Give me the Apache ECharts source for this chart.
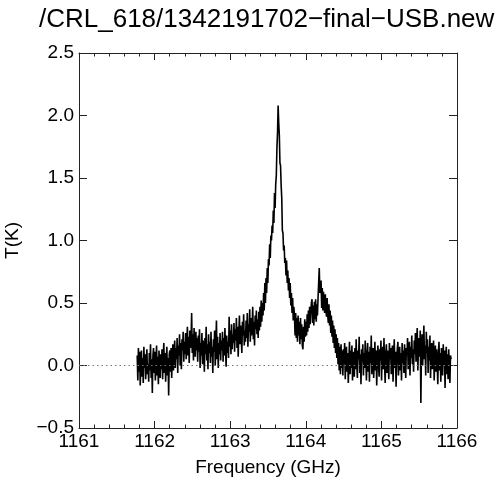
<!DOCTYPE html>
<html><head><meta charset="utf-8">
<script src="https://cdn.jsdelivr.net/npm/echarts@6/dist/echarts.min.js"></script>
<style>html,body{margin:0;padding:0;background:#fff}#c{width:500px;height:483px}</style>
</head><body><div id="c"></div>
<script>
const chartTitle = "/CRL_618/1342191702\u2212final\u2212USB.new";
const xName = "Frequency (GHz)";
const yName = "T(K)";
const xRange = [1161, 1166];
const yRange = [-0.5, 2.5];
const freqStart = 1161.77;
const freqStep = 0.008;
const tempK = [
0.08,-0.12,0.14,-0.05,0.11,-0.16,0.03,0.12,-0.09,0.06,-0.14,0.15,-0.02,0.09,-0.11,0.04,0.13,-0.07,0.01,-0.13,
0.10,-0.04,0.17,-0.10,0.05,-0.22,0.08,0.14,-0.06,0.11,-0.12,0.02,0.16,-0.08,0.07,-0.15,0.12,0.00,-0.10,0.09,
-0.03,0.13,-0.11,0.07,0.18,-0.06,0.10,-0.13,0.04,0.15,-0.08,0.06,-0.24,0.09,0.12,-0.05,0.14,-0.10,0.08,0.17,
-0.04,0.11,0.20,-0.02,0.14,0.05,0.22,-0.06,0.16,0.08,0.25,0.00,0.18,-0.03,0.21,0.12,0.27,0.03,0.19,0.09,
0.26,0.05,0.20,0.31,0.08,0.23,0.02,0.28,0.14,0.19,0.42,0.10,0.25,0.04,0.30,0.16,0.07,0.27,0.12,0.22,
0.03,0.24,0.11,0.29,-0.02,0.18,0.08,0.26,0.01,0.20,0.13,-0.05,0.22,0.09,0.31,0.04,0.17,-0.03,0.25,0.10,
0.19,0.02,0.27,0.07,0.15,-0.06,0.21,0.11,0.28,0.00,0.16,0.36,0.05,0.23,-0.02,0.18,0.09,0.26,0.04,0.20,
0.12,0.27,0.03,0.22,0.08,0.30,0.14,-0.01,0.24,0.10,0.19,0.06,0.39,0.15,0.28,0.09,0.33,0.13,0.25,0.18,
0.34,0.11,0.29,0.20,0.38,0.14,0.31,0.07,0.26,0.40,0.17,0.32,0.22,0.10,0.35,0.24,0.41,0.16,0.28,0.19,
0.36,0.22,0.42,0.15,0.33,0.27,0.45,0.19,0.38,0.24,0.30,0.47,0.21,0.35,0.16,0.40,0.29,0.44,0.25,0.37,
0.22,0.43,0.28,0.47,0.31,0.52,0.35,0.50,0.40,0.58,0.44,0.66,0.50,0.70,0.58,0.78,0.66,0.85,0.80,0.97,
0.86,1.04,1.00,1.12,1.06,1.24,1.14,1.38,1.26,1.45,1.52,1.74,1.86,2.08,1.94,1.84,1.62,1.60,1.44,1.34,
1.08,1.06,0.92,0.96,0.82,0.86,0.72,0.84,0.66,0.76,0.60,0.70,0.54,0.66,0.48,0.58,0.42,0.54,0.36,0.47,
0.40,0.24,0.42,0.22,0.38,0.19,0.40,0.24,0.35,0.17,0.38,0.21,0.33,0.16,0.13,0.31,0.19,0.37,0.23,0.35,
0.24,0.41,0.27,0.44,0.30,0.47,0.33,0.43,0.50,0.53,0.34,0.48,0.32,0.51,0.37,0.53,0.35,0.49,0.40,0.54,
0.55,0.78,0.58,0.60,0.68,0.46,0.62,0.44,0.59,0.48,0.42,0.57,0.44,0.39,0.54,0.40,0.34,0.49,0.32,0.44,
0.26,0.40,0.23,0.36,0.18,0.32,0.14,0.29,0.10,0.25,0.06,0.22,0.01,0.18,-0.04,0.15,-0.07,0.17,-0.02,0.12,
-0.08,0.13,0.01,0.18,-0.11,0.07,0.15,-0.05,0.10,-0.14,0.04,0.19,-0.07,0.12,-0.02,0.16,-0.12,0.06,0.11,-0.09,
0.14,-0.03,0.21,0.02,-0.10,0.12,0.05,0.23,-0.06,0.09,-0.15,0.13,0.03,0.17,-0.08,0.10,-0.02,0.20,0.06,-0.12,
0.08,0.18,-0.05,0.11,-0.13,0.15,0.02,0.24,-0.07,0.09,0.14,-0.10,0.06,0.19,-0.04,0.12,-0.16,0.07,0.16,0.00,
-0.09,0.13,0.04,0.20,-0.12,0.08,0.15,-0.03,0.22,0.01,-0.14,0.10,0.17,-0.06,0.12,0.03,-0.11,0.18,0.05,0.14,
-0.07,0.09,0.16,-0.13,0.06,0.21,-0.02,0.11,-0.17,0.04,0.13,0.19,-0.08,0.07,0.15,-0.04,0.10,-0.12,0.18,0.02,
0.12,-0.06,0.17,0.05,-0.10,0.14,0.08,0.22,-0.03,0.11,0.19,-0.08,0.15,0.06,0.24,0.01,0.13,-0.05,0.20,0.09,
0.26,0.03,0.18,0.30,-0.04,0.14,0.22,0.07,0.28,-0.30,0.12,0.25,0.00,0.19,0.32,0.05,0.16,-0.08,0.27,0.10,
0.21,-0.06,0.15,0.04,0.24,-0.10,0.12,0.18,-0.03,0.09,0.20,-0.12,0.07,0.16,-0.05,0.13,0.02,-0.15,0.11,0.19,
-0.04,0.10,-0.13,0.14,0.03,-0.08,0.17,0.00,0.12,-0.18,0.06,0.15,-0.07,0.09,-0.11,0.13,0.01,-0.14,0.08,0.05
];

const FONT = "'Liberation Sans', Arial, Helvetica, sans-serif";
const AX = '#222';
const seriesData = tempK.map((v, i) => [+(freqStart + i * freqStep).toFixed(4), v]);

function xAxis(pos, labels) {
  return {
    type: 'value', position: pos, min: xRange[0], max: xRange[1], interval: 1,
    axisLine: { show: true, onZero: false, lineStyle: { color: AX, width: 1 } },
    axisTick: { show: true, inside: true, length: 7, lineStyle: { color: AX } },
    minorTick: { show: true, splitNumber: 5, length: 3.5, lineStyle: { color: AX } },
    splitLine: { show: false }, minorSplitLine: { show: false },
    axisLabel: { show: labels, color: '#000', fontSize: 19, fontFamily: FONT, margin: 4,
      formatter: v => String(v) },
    name: labels ? xName : '', nameLocation: 'middle', nameGap: 30,
    nameTextStyle: { color: '#000', fontSize: 19, fontFamily: FONT }
  };
}
function yAxis(pos, labels) {
  return {
    type: 'value', position: pos, min: yRange[0], max: yRange[1], interval: 0.5,
    axisLine: { show: true, onZero: false, lineStyle: { color: AX, width: 1 } },
    axisTick: { show: true, inside: true, length: 8, lineStyle: { color: AX } },
    splitLine: { show: false },
    axisLabel: { show: labels, color: '#000', fontSize: 19, fontFamily: FONT, margin: 5,
      formatter: v => v.toFixed(1).replace('-', '\u2212') },
    name: labels ? yName : '', nameLocation: 'middle', nameGap: 57, nameRotate: 90,
    nameTextStyle: { color: '#000', fontSize: 19, fontFamily: FONT }
  };
}

const chart = echarts.init(document.getElementById('c'), null, { renderer: 'canvas' });
chart.setOption({
  animation: false,
  backgroundColor: '#fff',
  title: { text: chartTitle, left: 34, top: 2,
    textStyle: { color: '#000', fontSize: 26, fontWeight: 'normal', fontFamily: FONT } },
  grid: { left: 79, right: 43, top: 53, bottom: 55, containLabel: false, outerBoundsMode: 'none' },
  xAxis: [xAxis('bottom', true), xAxis('top', false)],
  yAxis: [yAxis('left', true), yAxis('right', false)],
  series: [{
    type: 'line', data: seriesData, xAxisIndex: 0, yAxisIndex: 0,
    showSymbol: false, symbol: 'none', sampling: null,
    lineStyle: { color: '#000', width: 1.6 },
    markLine: { silent: true, symbol: 'none', label: { show: false },
      lineStyle: { color: '#777', type: [1.5, 3], width: 1 },
      data: [{ yAxis: 0 }] }
  }]
});
</script>
</body></html>
